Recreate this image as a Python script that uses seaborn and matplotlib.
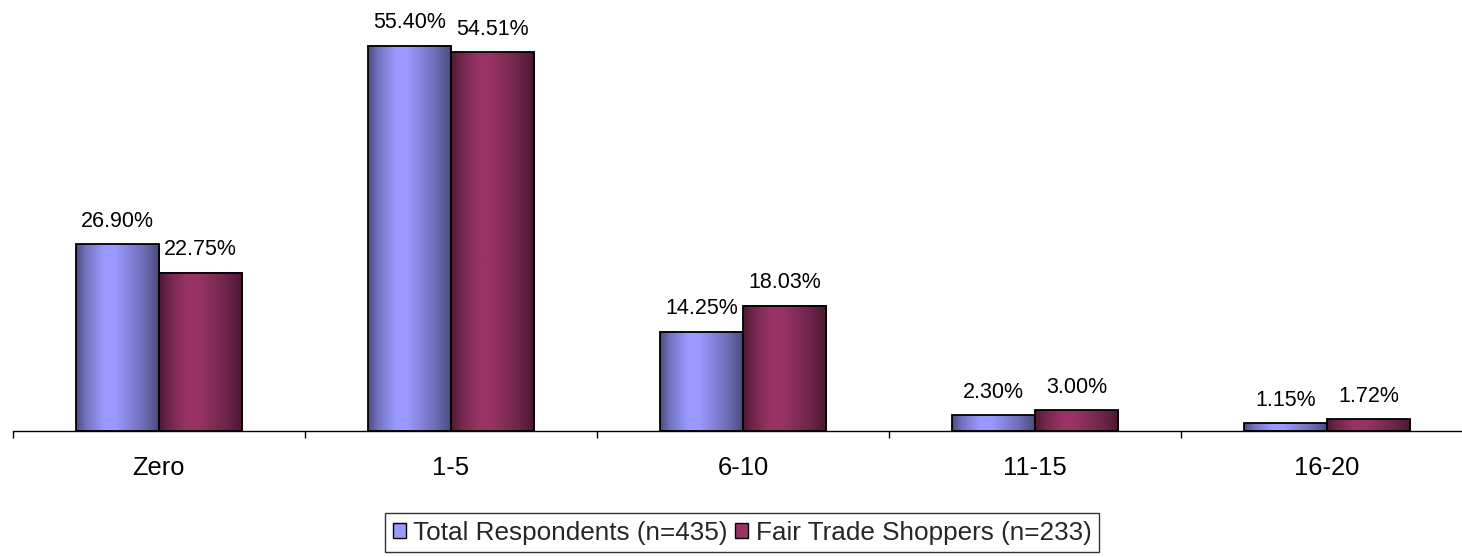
import numpy as np
import pandas as pd
import seaborn as sns
import matplotlib.pyplot as plt
from matplotlib.patches import Patch
from matplotlib.colors import to_rgb

sns.set_theme(style="white")
plt.rcParams['font.family'] = ['Liberation Sans', 'DejaVu Sans']

categories = ["Zero", "1-5", "6-10", "11-15", "16-20"]
series_names = ["Total Respondents (n=435)", "Fair Trade Shoppers (n=233)"]
total_pct = [26.90, 55.40, 14.25, 2.30, 1.15]
fair_trade_pct = [22.75, 54.51, 18.03, 3.00, 1.72]
colors = ["#9999FF", "#993366"]

df = pd.DataFrame({
    "category": categories * 2,
    "series": [series_names[0]] * len(categories) + [series_names[1]] * len(categories),
    "pct": total_pct + fair_trade_pct,
})

W, H = 1462, 557
FS_LABEL = 15.5
FS_AXIS = 18.4
FS_LEGEND = 18.8
fig = plt.figure(figsize=(W / 100, H / 100), dpi=100)
ax = fig.add_axes([13 / W, (H - 431) / H, 1460 / W, 417 / H])

sns.barplot(data=df, x="category", y="pct", hue="series", hue_order=series_names,
            palette=colors, saturation=1, width=0.57, gap=0, edgecolor="black",
            linewidth=1.3, ax=ax, legend=False, errorbar=None)

# shaded cylinder-like fill: dark edges, bright band left of centre
n = 200
t = np.linspace(0, 1, n)
shade = np.interp(t, [0, 0.12, 0.33, 0.47, 0.8, 1.0], [0.5, 0.75, 1.0, 1.0, 0.72, 0.48])
for patch in list(ax.patches):
    base = np.array(to_rgb(patch.get_facecolor()))
    x, y = patch.get_x(), patch.get_y()
    w, h = patch.get_width(), patch.get_height()
    grad = (shade[:, None] * base[None, :])[None, :, :]
    ax.imshow(grad, extent=[x, x + w, y, y + h], aspect="auto",
              interpolation="bilinear", zorder=patch.get_zorder() - 0.1,
              clip_path=patch, clip_on=True)
    patch.set_facecolor("none")

for cont in ax.containers:
    ax.bar_label(cont, fmt="%.2f%%", padding=9, fontsize=FS_LABEL, color="black")

ax.set_xlim(-0.5, len(categories) - 0.5)
ax.set_ylim(0, 60)
ax.set_xlabel("")
ax.set_ylabel("")
ax.set_yticks([])
for s in ["left", "top", "right"]:
    ax.spines[s].set_visible(False)
ax.spines["bottom"].set_color("black")
ax.spines["bottom"].set_linewidth(1.0)

ax.set_xticks(np.arange(len(categories)))
ax.set_xticklabels(categories, fontsize=FS_AXIS, color="black")
ax.set_xticks(np.arange(-0.5, len(categories)), minor=True)
ax.tick_params(axis="x", which="major", length=0, pad=18)
ax.tick_params(axis="x", which="minor", length=5, width=1, color="black", direction="out", bottom=True)

handles = [Patch(facecolor=c, edgecolor="black", linewidth=1.0) for c in colors]
leg = fig.legend(handles, series_names, loc="lower center", bbox_to_anchor=(742 / W, 5 / H),
                 ncol=2, fontsize=FS_LEGEND, frameon=True, fancybox=False, edgecolor="black",
                 handlelength=0.5, handleheight=0.5, handletextpad=0.28,
                 columnspacing=0.3, borderpad=0.28, borderaxespad=0)
leg.get_frame().set_linewidth(1.0)

fig.savefig("out.png", dpi=100, facecolor="white")
